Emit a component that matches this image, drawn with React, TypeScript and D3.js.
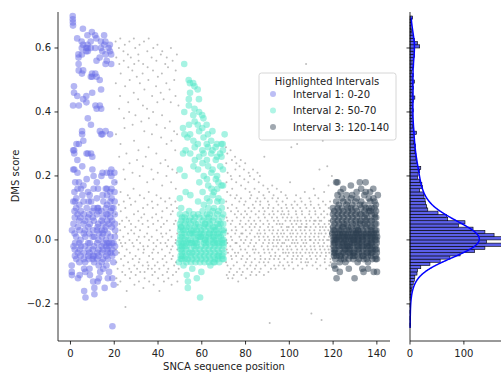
import React from 'react';
import * as d3 from 'd3';

// DMS scores (x100) per sequence position, grouped by stretch of the sequence
const interval1Start = 1;
const interval1Scores = [
  '70 69 68 67 42 28 22 12 5 -2 -8 -10 -11 3',
  '48 46 28 27 22 15 9 2 -3 7 -5 12 -1 18',
  '63 45 25 21 16 8 4 -4 -12 10 1 -6 13 30',
  '58 57 55 53 42 30 18 6 -1 -7 11 3 -3 -11',
  '62 60 58 52 34 33 23 14 7 0 -5 9 -2 16',
  '66 61 53 44 31 17 12 5 -6 2 8 -4 -9 -16',
  '60 59 45 43 27 19 10 3 -2 -7 6 -10 1 -18',
  '64 61 60 59 38 27 15 7 -1 -5 4 -3 -6 12',
  '62 60 51 36 27 12 8 2 -4 -9 14 -1 5 -11',
  '65 52 51 46 26 22 9 1 -6 -3 7 -5 3 -13',
  '64 60 52 42 20 16 10 6 -2 -5 -7 1 -15 -17',
  '63 56 51 41 18 13 8 3 -1 -6 10 -4 4 -13',
  '57 50 42 34 16 10 5 0 -3 -5 9 -8 2 -12',
  '62 60 47 41 33 20 9 6 -2 -7 3 -4 1 -10',
  '64 61 59 33 21 14 7 2 -3 -6 5 -1 -9 12',
  '62 58 55 34 16 10 4 0 -5 -2 8 -8 3 -15',
  '60 56 21 16 14 11 6 -1 -3 8 2 -6 -12 -4',
  '61 59 33 21 15 12 7 1 -4 9 -2 5 -10 -1',
  '58 55 22 20 16 13 10 4 -1 -3 6 -5 -12 -27',
  '21 18 15 12 8 5 1 -2 -4 3 -7 10 -1 -14',
];

const background1Start = 21;
const background1Scores = [
  '62 8 49 -3 33 18 2 57 -7 -12', '11 60 -4 41 26 55 0 5 -9 -14',
  '45 3 63 -13 30 15 52 9 -1 -6', '1 59 -8 22 56 12 38 6 -2 -10',
  '35 -5 61 4 19 48 -11 10 -1 -21', '14 58 2 -7 43 54 27 7 -3 -16',
  '6 40 -9 62 0 24 50 13 -4 -12', '53 -1 21 36 -6 57 11 5 -10 3',
  '16 -2 46 63 8 31 2 55 -8 -14', '51 0 25 -9 60 12 39 4 -5 -11',
  '9 44 -3 58 28 6 56 1 -7 -13', '37 7 61 -6 20 14 49 3 -1 -10',
  '5 52 -8 23 42 10 55 -2 -4 -15', '26 -3 62 13 8 34 47 1 -10 -12',
  '41 2 18 59 -7 11 54 6 -2 -9', '4 50 -8 29 63 15 38 0 -5 -13',
  '22 57 1 -9 33 12 45 7 -4 -11', '10 -6 53 40 5 60 19 -1 -3 -14',
  '48 8 -2 27 56 14 36 3 -8 -10', '0 43 61 -7 11 21 51 6 -4 -12',
  '24 -1 46 13 58 4 32 2 -9 -16', '7 52 -3 39 17 59 9 1 -6 -11',
  '35 -5 12 55 25 -1 44 5 -8 -13', '2 49 20 -7 30 57 10 6 -2 -10',
  '13 47 -4 37 3 54 23 0 -9 -12', '43 8 60 -3 18 11 31 1 -6 -14',
  '5 34 -8 50 22 -2 56 9 -5 -11', '28 12 -1 45 6 53 16 0 -7 -10',
  '42 4 -9 21 58 10 33 2 -3 -13',
];

const interval2Start = 50;
const interval2Scores = [
  '22 13 8 5 3 1 0 -2 -3 -5 -6 4 -1 -7',
  '35 27 10 6 4 2 -1 -3 -4 -6 7 1 -2 -5',
  '55 40 33 20 7 5 2 0 -2 -4 -6 3 -1 -8',
  '32 28 15 8 6 3 1 -1 -3 -5 -7 4 -2 -11',
  '50 44 42 36 9 6 4 2 -1 -4 -6 -15 -13 0',
  '49 46 33 27 14 7 5 2 0 -3 -5 -7 3 -1',
  '49 39 31 23 8 6 3 1 -2 -4 -6 -9 2 -1',
  '48 41 37 29 25 7 4 2 -1 -3 -5 -7 5 0',
  '47 36 30 22 12 8 5 1 -2 -4 -6 -12 3 -1',
  '44 40 34 26 18 7 4 2 0 -3 -5 -7 -18 1',
  '39 35 28 24 15 9 6 3 1 -2 -4 -6 -10 2',
  '38 32 27 20 11 7 4 2 -1 -3 -5 -7 0 5',
  '36 30 25 19 13 8 5 3 0 -2 -4 -6 1 -1',
  '33 29 23 17 10 7 4 1 -1 -3 -5 -7 2 6',
  '31 27 21 16 12 8 5 2 0 -2 -4 -6 -8 3',
  '34 28 22 14 9 6 4 1 -1 -3 -5 -7 2 0',
  '29 25 19 15 10 7 3 1 -2 -4 -6 -7 4 -1',
  '30 26 20 16 12 8 5 2 -1 -3 -5 -6 0 3',
  '27 23 18 13 9 6 4 1 -2 -4 -5 -7 2 -1',
  '30 26 17 12 10 7 3 0 -1 -3 -5 -6 5 1',
  '33 30 28 22 17 8 5 2 0 -2 -4 -6 3 -1',
];

const background2Start = 71;
const background2Scores = [
  '3 29 -7 12 24 0 18 7 -3 -11', '15 -1 27 6 -8 21 2 10 -4 -12',
  '-2 14 28 -9 5 20 1 9 -5 -10', '19 3 -6 25 11 0 16 6 -3 -12',
  '8 -4 26 13 2 22 -1 4 -8 -11', '-5 18 3 24 10 -1 14 7 -7 -10',
  '12 1 23 -9 20 5 -2 9 -4 -13', '6 25 -3 13 0 17 8 2 -6 -11',
  '-1 22 7 11 -8 19 4 2 -5 -10', '9 24 -3 16 0 12 5 3 -7 -12',
  '18 -2 10 6 21 1 8 -4 -6 -9', '4 15 -5 20 2 13 7 -1 -8 -11',
  '11 -3 22 5 14 0 9 3 -7 -10', '-2 19 6 10 -4 16 4 1 -6 -9',
  '13 2 21 -3 8 12 5 -1 -8 -11', '7 -4 18 1 15 9 3 0 -7 -10',
  '-2 20 4 11 6 12 2 -5 -6 -9', '10 -1 17 5 14 1 8 -3 -7 -11',
  '26 3 -4 9 13 0 7 2 -6 -8', '6 -2 16 1 12 4 10 -3 -7 -10',
  '-1 11 5 15 0 8 3 -4 -6 -26', '7 -3 17 2 13 4 9 -1 -5 -9',
  '3 10 -2 14 0 8 6 1 -6 -8', '-2 12 5 16 0 7 2 -4 -5 -9',
  '9 -1 13 3 6 11 1 -3 -6 -8', '2 15 -2 8 4 10 0 5 -5 -7',
  '-1 9 5 12 1 7 3 -3 -4 -8', '6 -4 14 0 11 2 8 -1 -6 -9',
  '10 -2 4 13 1 7 3 -3 -5 -7', '-2 18 6 2 9 0 8 4 -4 -8',
  '1 29 -3 7 11 5 3 -1 -6 -7', '6 -1 12 0 10 2 4 -4 -5 -9',
  '-2 9 3 14 1 8 5 0 -4 -6', '4 30 -3 11 2 7 6 -1 -5 -8',
  '10 1 -4 13 3 6 4 -2 -6 -7', '-1 12 5 0 9 2 8 -3 -5 -9',
  '3 15 -2 7 1 11 4 0 -4 -7', '2 55 6 -1 10 4 5 -3 -6 -8',
  '8 -4 13 1 9 3 6 0 -5 -7', '-2 12 4 0 11 2 7 -3 -6 -23',
  '5 16 -1 10 1 6 3 -2 -4 -8', '2 14 -3 9 0 8 6 4 -5 -7',
  '7 -1 13 1 11 5 2 -4 -6 -9', '22 0 6 -2 10 3 4 -3 -5 -8',
  '4 31 -2 12 0 8 6 2 -4 -25', '9 -1 15 1 7 3 5 -3 -6 -7',
  '0 23 8 -2 11 2 4 -4 -5 -9', '3 17 -3 10 0 6 5 1 -4 -8',
  '9 -1 20 2 12 4 6 -2 -6 -7',
];

const interval3Start = 120;
const interval3Scores = [
  '10 8 6 4 3 1 0 -1 -2 -3 -4 -5 -8 2',
  '18 12 9 7 5 3 2 0 -1 -3 -4 -6 -9 1',
  '18 14 10 8 6 4 2 1 -1 -2 -4 -5 -12 0',
  '15 11 9 7 5 3 1 0 -2 -3 -5 -7 -10 2',
  '13 10 8 6 4 2 1 -1 -2 -4 -5 -6 3 0',
  '16 12 9 7 5 4 2 0 -1 -3 -4 -6 1 -2',
  '14 11 8 6 5 3 1 -1 -2 -3 -5 -7 2 0',
  '12 10 9 7 4 2 1 0 -2 -3 -4 -6 -9 3',
  '17 13 10 8 6 4 2 0 -1 -2 -4 -5 1 -3',
  '14 11 9 7 5 3 1 -1 -2 -4 -5 -6 2 0',
  '12 10 8 6 5 3 2 0 -1 -3 -4 -5 -12 1',
  '15 13 9 7 4 2 1 -1 -2 -3 -5 -7 3 0',
  '18 11 8 6 5 3 1 0 -2 -3 -4 -6 2 -1',
  '16 12 10 8 6 4 2 1 -1 -2 -4 -5 -9 0',
  '14 11 9 7 5 3 1 0 -2 -3 -5 -6 -10 2',
  '18 15 10 8 6 4 2 1 -1 -3 -4 -6 0 -2',
  '13 10 9 7 5 3 1 -1 -2 -4 -5 -7 -9 2',
  '15 12 9 6 4 2 1 0 -1 -3 -4 -5 3 -2',
  '16 13 10 8 6 4 2 0 -1 -2 -4 -6 1 -3',
  '12 10 8 7 5 3 1 0 -2 -3 -5 -6 -10 2',
  '14 11 9 7 5 3 2 0 -1 -3 -4 -6 -10 1',
];

// marginal histogram of all DMS scores, bins of 0.01 starting at -0.28
const histStart = -0.28;
const histBinWidth = 0.01;
const histCounts = [
  0, 1, 0, 1, 0, 1, 0, 1, 0, 1,
  2, 2, 3, 4, 6, 8, 9, 13, 14, 20,
  37, 56, 74, 93, 120, 139, 172, 142, 172, 156,
  139, 117, 90, 102, 70, 68, 52, 33, 31, 29,
  28, 26, 25, 18, 23, 22, 18, 14, 15, 18,
  20, 14, 12, 10, 11, 9, 8, 10, 7, 8,
  6, 12, 7, 5, 6, 4, 5, 4, 6, 5,
  4, 6, 9, 5, 4, 6, 5, 8, 4, 6,
  3, 5, 7, 4, 6, 8, 6, 8, 18, 14,
  8, 6, 4, 3, 2, 3, 2, 5,
];

const xTicks = [0, 20, 40, 60, 80, 100, 120, 140];
const yTicks = [-0.2, 0, 0.2, 0.4, 0.6];
const histTicks = [0, 100];

const legendItems = [
  { label: 'Interval 1: 0-20', color: '#6a6ee8' },
  { label: 'Interval 2: 50-70', color: '#50e8c8' },
  { label: 'Interval 3: 120-140', color: '#2c3e50' },
];

type Pt = { pos: number; score: number; k: number };
const toPoints = (start: number, rows: string[]): Pt[] =>
  rows.flatMap((row, i) =>
    row.trim().split(/\s+/).map((s, j) => ({ pos: start + i, score: +s / 100, k: (start + i) * 31 + j }))
  );

// small horizontal spread so stacked points at one position do not sit in a rigid column
const spread = (k: number) => ((((k * 2654435761) >>> 0) % 997) / 997 - 0.5) * 0.9;

const font = 'DejaVu Sans, Liberation Sans, sans-serif';

export default function App() {
  const width = 501;
  const height = 372;

  const x = d3.scaleLinear().domain([-5.7, 146]).range([58, 390]);
  const y = d3.scaleLinear().domain([-0.316, 0.7125]).range([341, 12]);
  const hx = d3.scaleLinear().domain([0, 180]).range([410, 507]);

  const background = [
    ...toPoints(background1Start, background1Scores),
    ...toPoints(background2Start, background2Scores),
  ];
  const groups = [
    { pts: toPoints(interval1Start, interval1Scores), color: legendItems[0].color },
    { pts: toPoints(interval2Start, interval2Scores), color: legendItems[1].color },
    { pts: toPoints(interval3Start, interval3Scores), color: legendItems[2].color },
  ];

  // kde over the histogram, scaled to counts
  const centers = histCounts.map((_, i) => histStart + (i + 0.5) * histBinWidth);
  const bw = 0.036;
  const kde = (v: number) =>
    (d3.sum(histCounts, (c, i) => c * Math.exp(-0.5 * ((v - centers[i]) / bw) ** 2)) /
      (bw * Math.sqrt(2 * Math.PI))) *
    histBinWidth;
  const grid = d3.range(centers[0], centers[centers.length - 1] + 0.0001, 0.002);
  const kdeLine = d3
    .line<number>()
    .x((v) => hx(kde(v)))
    .y((v) => y(v))
    .curve(d3.curveBasis)(grid);

  return (
    <svg width={width} height={height} style={{ display: 'block', position: 'absolute', left: 0, top: 0 }} fontFamily={font}>
      <rect width={width} height={height} fill="white" />
      <defs>
        <clipPath id="histClip">
          <rect x={409} y={0} width={92} height={342} />
        </clipPath>
      </defs>

      {/* scatter */}
      <g>
        {background.map((d, i) => (
          <circle key={'b' + i} cx={x(d.pos + spread(d.k))} cy={y(d.score)} r={1} fill="#999" opacity={0.65} />
        ))}
        {groups.map((g, gi) =>
          g.pts.map((d, i) => (
            <circle key={gi + '-' + i} cx={x(d.pos + spread(d.k))} cy={y(d.score)} r={3.3} fill={g.color} opacity={0.5} />
          ))
        )}
      </g>

      {/* main axes */}
      <line x1={58} x2={58} y1={12} y2={341} stroke="#000" strokeWidth={0.8} />
      <line x1={58} x2={390} y1={341} y2={341} stroke="#000" strokeWidth={0.8} />
      {xTicks.map((t) => (
        <g key={'xt' + t} transform={`translate(${x(t)},341)`}>
          <line y2={3.5} stroke="#000" strokeWidth={0.8} />
          <text y={16} textAnchor="middle" fontSize={10} fill="#222">{t}</text>
        </g>
      ))}
      {yTicks.map((t) => (
        <g key={'yt' + t} transform={`translate(58,${y(t)})`}>
          <line x2={-3.5} stroke="#000" strokeWidth={0.8} />
          <text x={-7} dy="0.35em" textAnchor="end" fontSize={10} fill="#222">
            {t === 0 ? '0.0' : t < 0 ? '\u2212' + Math.abs(t).toFixed(1) : t.toFixed(1)}
          </text>
        </g>
      ))}
      <text x={224} y={370} textAnchor="middle" fontSize={10} fill="#222">SNCA sequence position</text>
      <text transform="translate(19,176) rotate(-90)" textAnchor="middle" fontSize={10} fill="#222">DMS score</text>

      {/* legend */}
      <g>
        <rect x={259} y={73} width={137} height={67} rx={2.5} fill="white" fillOpacity={0.8} stroke="#ccc" strokeWidth={0.8} />
        <text x={327} y={85} textAnchor="middle" fontSize={10} fill="#222">Highlighted Intervals</text>
        {legendItems.map((it, i) => (
          <g key={it.label} transform={`translate(0,${94 + i * 16.5})`}>
            <circle cx={273} cy={0} r={3} fill={it.color} opacity={0.45} />
            <text x={293} dy="0.35em" fontSize={10} fill="#222">{it.label}</text>
          </g>
        ))}
      </g>

      {/* marginal histogram */}
      <g clipPath="url(#histClip)">
        {histCounts.map((c, i) =>
          c > 0 ? (
            <rect
              key={'h' + i}
              x={hx(0)}
              y={y(histStart + (i + 1) * histBinWidth)}
              width={hx(c) - hx(0)}
              height={y(histStart + i * histBinWidth) - y(histStart + (i + 1) * histBinWidth)}
              fill="#5b5fe8"
              stroke="#000"
              strokeWidth={0.6}
            />
          ) : null
        )}
        <path d={kdeLine ?? ''} fill="none" stroke="#0000ff" strokeWidth={1.5} />
      </g>
      <line x1={410} x2={410} y1={12} y2={341} stroke="#000" strokeWidth={0.8} />
      <line x1={410} x2={501} y1={341} y2={341} stroke="#000" strokeWidth={0.8} />
      {yTicks.map((t) => (
        <line key={'hy' + t} x1={410} x2={406.5} y1={y(t)} y2={y(t)} stroke="#000" strokeWidth={0.8} />
      ))}
      {histTicks.map((t) => (
        <g key={'hx' + t} transform={`translate(${hx(t)},341)`}>
          <line y2={3.5} stroke="#000" strokeWidth={0.8} />
          <text y={16} textAnchor="middle" fontSize={10} fill="#222">{t}</text>
        </g>
      ))}
    </svg>
  );
}
